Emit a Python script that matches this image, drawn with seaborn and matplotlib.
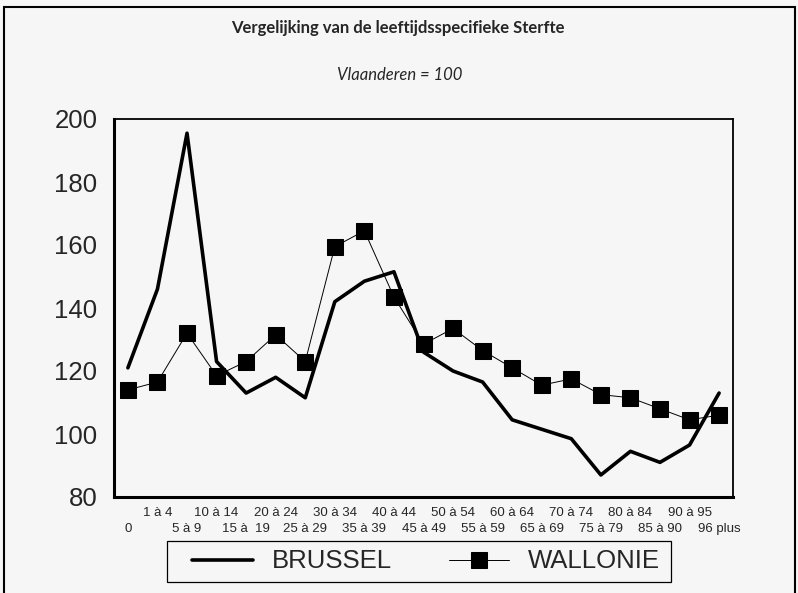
import matplotlib
matplotlib.use("Agg")
import matplotlib.pyplot as plt
import seaborn as sns
import pandas as pd
from matplotlib.patches import Rectangle

categories = ["0", "1 à 4", "5 à 9", "10 à 14", "15 à  19", "20 à 24", "25 à 29",
              "30 à 34", "35 à 39", "40 à 44", "45 à 49", "50 à 54", "55 à 59",
              "60 à 64", "65 à 69", "70 à 74", "75 à 79", "80 à 84", "85 à 90",
              "90 à 95", "96 plus"]
brussel = [121, 146, 195.5, 123, 113, 118, 111.5, 142, 148.5, 151.5, 126, 120,
           116.5, 104.5, 101.5, 98.5, 87, 94.5, 91, 96.5, 113]
wallonie = [114, 116.5, 132, 118.5, 123, 131.5, 123, 159.5, 164.5, 143.5, 128.5,
            133.5, 126.5, 121, 115.5, 117.5, 112.5, 111.5, 108, 104.5, 106]
yticks = [80, 100, 120, 140, 160, 180, 200]

title = "Vergelijking van de leeftijdsspecifieke Sterfte"
subtitle = "Vlaanderen = 100"

sns.set_style("white")
plt.rcParams['font.family'] = ['Liberation Sans', 'DejaVu Sans']

bg = "#f6f6f6"
fig = plt.figure(figsize=(7.98, 5.93), dpi=100, facecolor=bg)
ax = fig.add_axes([114/798, 1-497/593, (733-114)/798, (497-119)/593])
ax.set_facecolor(bg)

df = pd.DataFrame({"x": list(range(len(categories))) * 2,
                   "v": brussel + wallonie,
                   "s": ["BRUSSEL"] * len(categories) + ["WALLONIE"] * len(categories)})

sns.lineplot(data=df[df.s == "BRUSSEL"], x="x", y="v", ax=ax, color="black",
             linewidth=2.6, label="BRUSSEL", estimator=None)
sns.lineplot(data=df[df.s == "WALLONIE"], x="x", y="v", ax=ax, color="black",
             linewidth=0.7, marker="s", markersize=11, markeredgecolor="black",
             markerfacecolor="black", label="WALLONIE", estimator=None)

ax.set_xlim(-0.47, 20.47)
ax.set_ylim(80, 200)
ax.set_yticks(yticks)
ax.set_yticklabels([str(t) for t in yticks], fontsize=18.5)
ax.tick_params(axis="y", length=0, pad=12)
ax.set_xticks(range(len(categories)))
ax.set_xticklabels([])
ax.tick_params(axis="x", length=0)
for i, c in enumerate(categories):
    yoff = -0.043 if i % 2 == 1 else -0.085
    ax.text(i, yoff, c, transform=ax.get_xaxis_transform(), ha="center", va="center",
            fontsize=9.5)
ax.set_xlabel("")
ax.set_ylabel("")
for side, lw in [("left", 2.2), ("bottom", 2.2), ("top", 1.3), ("right", 1.3)]:
    ax.spines[side].set_visible(True)
    ax.spines[side].set_color("black")
    ax.spines[side].set_linewidth(lw)

leg = ax.legend(loc="center", bbox_to_anchor=((167+671)/2/798 + 0.009, 1-(541+582)/2/593),
                bbox_transform=fig.transFigure, ncol=2, fontsize=18.5, frameon=False,
                handlelength=2.35, columnspacing=2.2,
                borderpad=0.1, handletextpad=0.75, borderaxespad=0)
fig.patches.append(Rectangle((167/798, 1-582/593), (671-167)/798, (582-541)/593,
                             transform=fig.transFigure, fill=False,
                             edgecolor="black", linewidth=0.9))

fig.text(398/798, 1-28/593, title, ha="center", va="center", fontsize=12,
         family=["Lato", "DejaVu Sans"], fontweight="bold")
fig.text(400/798, 1-75/593, subtitle, ha="center", va="center", fontsize=12,
         style="italic", family=["Lato", "DejaVu Sans"])

fig.patches.append(Rectangle((4/798, -0.05), (795-4)/798, 1.05-7/593,
                             transform=fig.transFigure, fill=False,
                             edgecolor="black", linewidth=1.5))

fig.savefig("out.png", dpi=100, facecolor=bg)
